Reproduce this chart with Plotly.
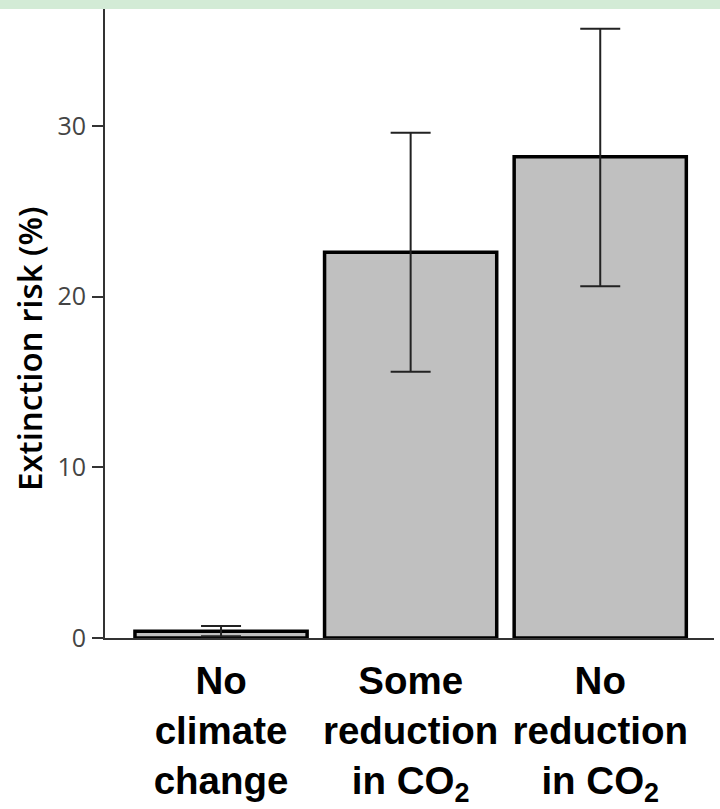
import plotly.graph_objects as go

categories = ["No<br>climate<br>change",
              "Some<br>reduction<br>in CO<sub>2</sub>",
              "No<br>reduction<br>in CO<sub>2</sub>"]
risk = [0.4, 22.6, 28.2]
err_up = [0.3, 7.0, 7.5]
err_down = [0.3, 7.0, 7.6]
y_ticks = [0, 10, 20, 30]
y_title = "Extinction risk (%)"

fig = go.Figure()
fig.add_trace(go.Bar(
    x=categories, y=risk,
    marker=dict(color="#c0c0c0", line=dict(color="black", width=3.5)),
    error_y=dict(type="data", array=err_up, arrayminus=err_down,
                 color="#222222", thickness=2, width=20),
    showlegend=False,
))

plot_l, plot_r, plot_t, plot_b = 105, 714, 9, 638
pw, ph = plot_r - plot_l, plot_b - plot_t

fig.update_layout(
    width=720, height=809,
    margin=dict(l=plot_l, r=720 - plot_r, t=plot_t, b=809 - plot_b),
    paper_bgcolor="white", plot_bgcolor="white",
    bargap=0.092,
    xaxis=dict(
        range=[-0.612, 2.6], automargin=False,
        showline=True, linecolor="#333333", linewidth=2,
        ticks="", showgrid=False, zeroline=False,
        tickfont=dict(family="Liberation Sans, Arial", size=38.5, color="black", weight="bold"),
        ticklabelstandoff=8,
    ),
    yaxis=dict(
        range=[0, 36.85], automargin=False,
        tickvals=y_ticks,
        showline=True, linecolor="#333333", linewidth=2,
        ticks="outside", ticklen=11, tickwidth=2, tickcolor="#333333",
        showgrid=False, zeroline=False,
        tickfont=dict(family="Open Sans", size=25, color="#444444"),
        ticklabelstandoff=1,
    ),
    annotations=[dict(text=y_title, textangle=-90, showarrow=False,
                      xref="paper", yref="paper",
                      x=(29 - plot_l) / pw, y=(plot_b - 349) / ph,
                      xanchor="center", yanchor="middle",
                      font=dict(family="Open Sans", size=33, color="black", weight=600))],
    shapes=[dict(type="rect", xref="paper", yref="paper",
                 x0=-0.3, x1=1.1, y0=1.0, y1=1.05,
                 fillcolor="#d3ebd6", line=dict(width=0), layer="above")],
)

fig.write_html("out.html")
